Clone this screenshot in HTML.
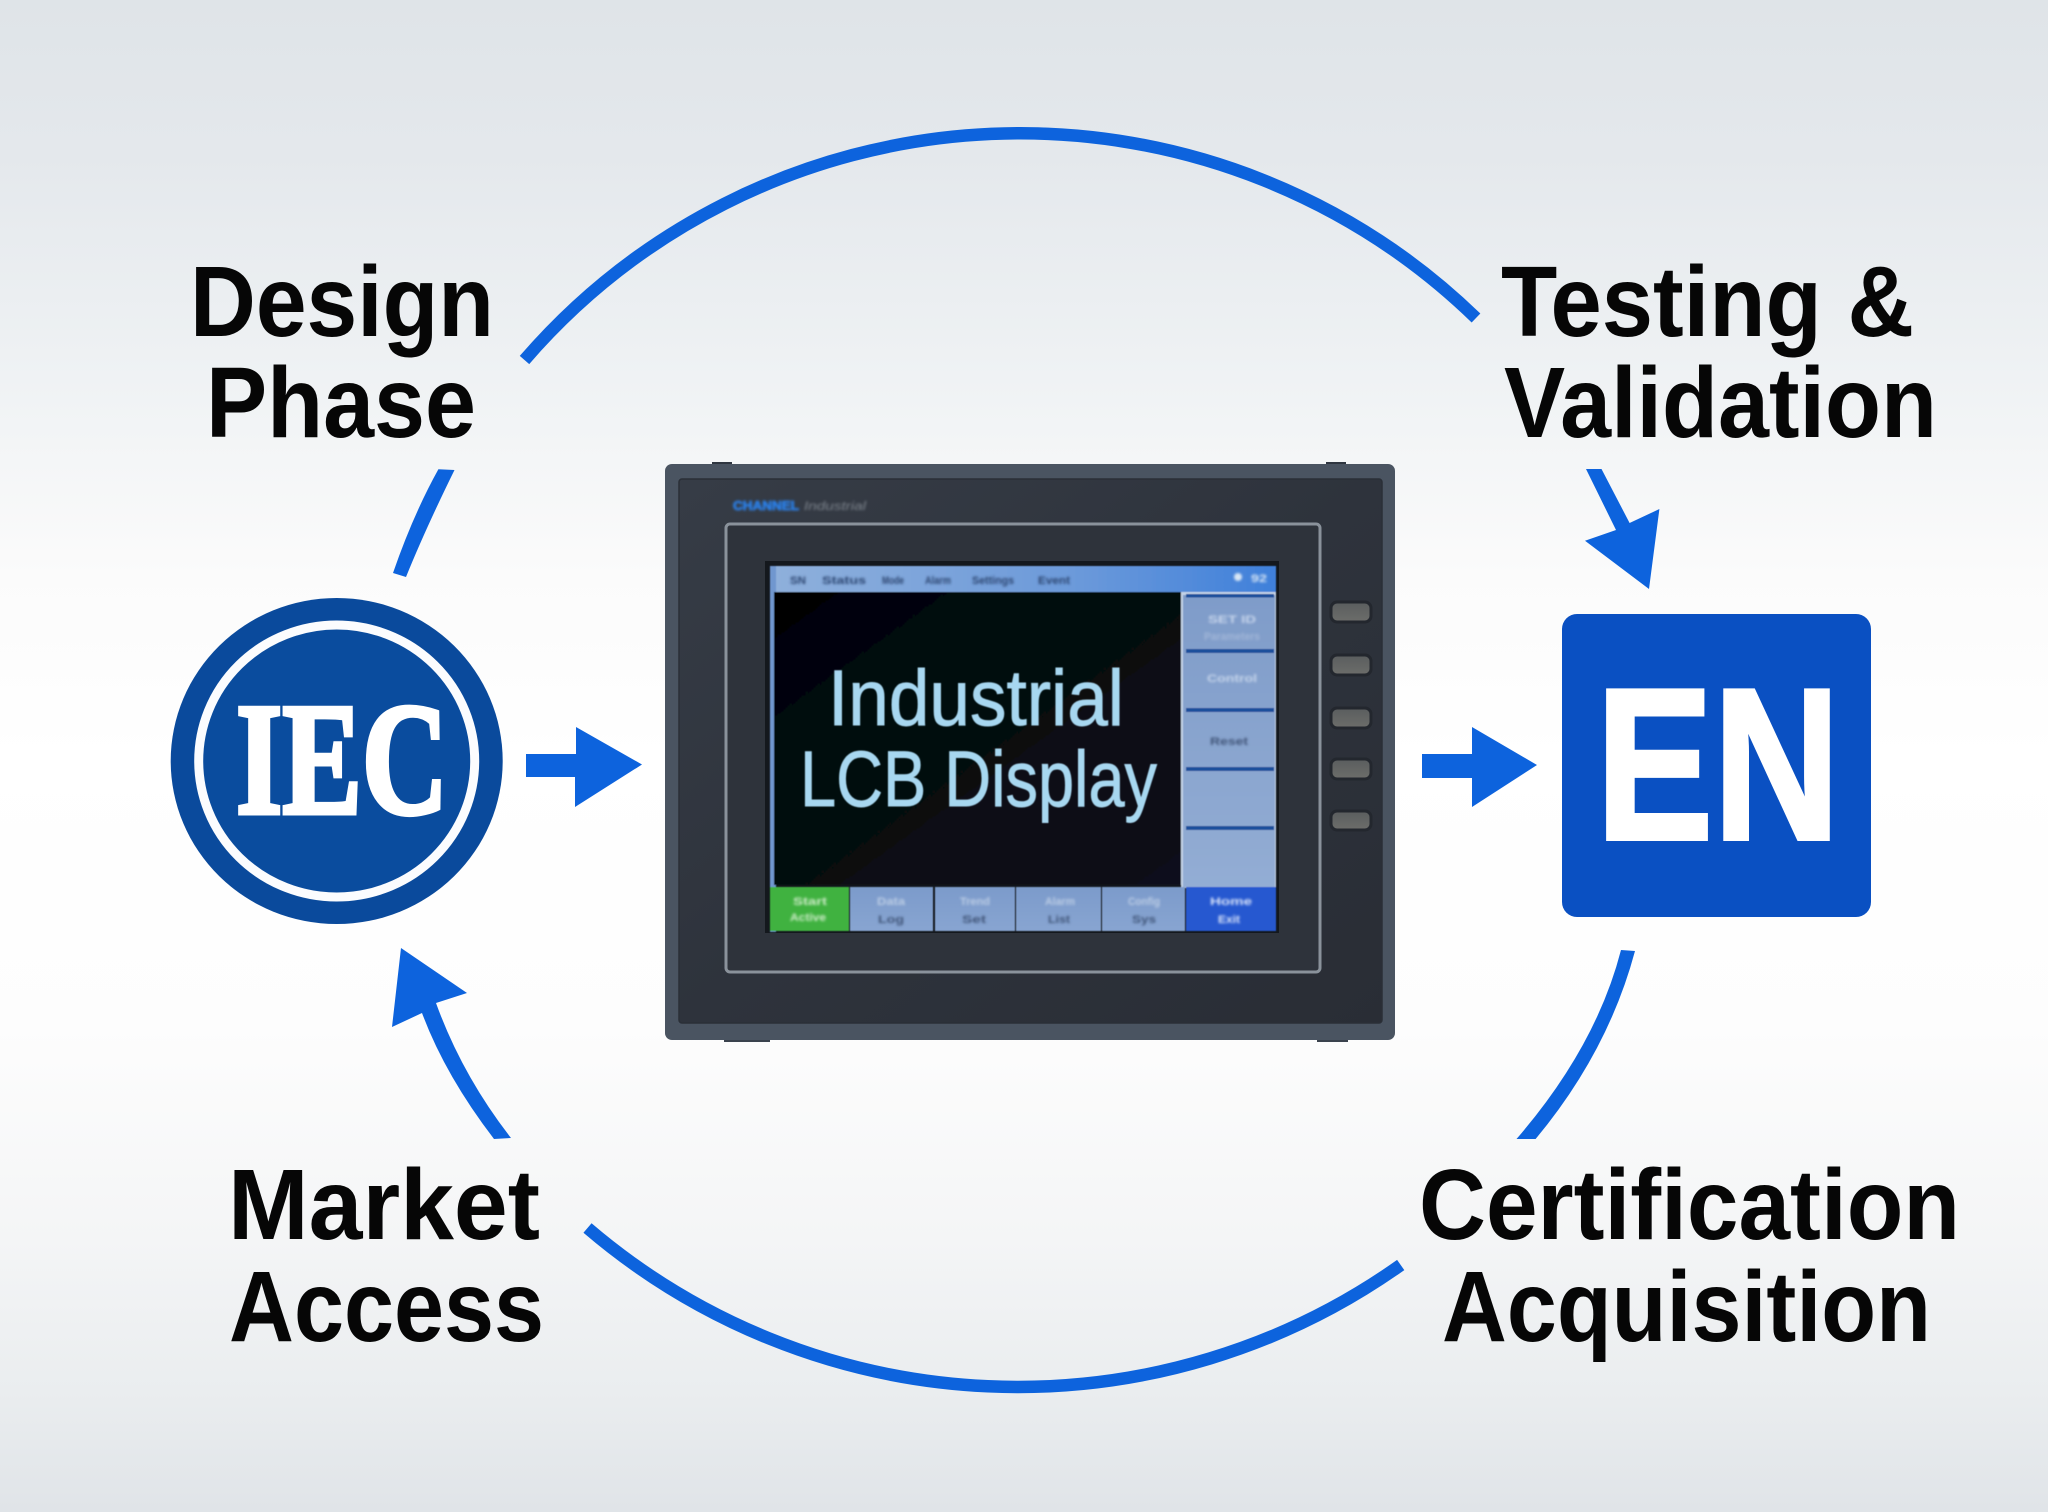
<!DOCTYPE html>
<html lang="en">
<head>
<meta charset="utf-8">
<title>Industrial LCD Display Certification Cycle</title>
<style>
html,body{margin:0;padding:0;width:2048px;height:1512px;overflow:hidden;background:#fff}
svg{display:block}
.lab{font-family:"Liberation Sans",sans-serif;font-weight:700;font-size:100px;fill:#060606}
.tiny{font-family:"Liberation Sans",sans-serif;font-size:11px;font-weight:700}
</style>
</head>
<body>
<svg xmlns="http://www.w3.org/2000/svg" width="2048" height="1512" viewBox="0 0 2048 1512">
<defs>
<linearGradient id="bg" x1="0" y1="0" x2="0" y2="1">
<stop offset="0" stop-color="#dfe4e8"/>
<stop offset=".1" stop-color="#e4e8ec"/>
<stop offset=".25" stop-color="#eff2f4"/>
<stop offset=".38" stop-color="#fbfbfb"/>
<stop offset=".5" stop-color="#ffffff"/>
<stop offset=".68" stop-color="#fdfdfd"/>
<stop offset=".82" stop-color="#f4f5f6"/>
<stop offset=".92" stop-color="#eaedef"/>
<stop offset="1" stop-color="#e0e4e8"/>
</linearGradient>
<linearGradient id="panel" x1="0" y1="0" x2="1" y2="1">
<stop offset="0" stop-color="#363c46"/>
<stop offset=".5" stop-color="#2e333c"/>
<stop offset="1" stop-color="#292d35"/>
</linearGradient>
<linearGradient id="bar" x1="0" y1="0" x2="1" y2="0">
<stop offset="0" stop-color="#8fb0db"/>
<stop offset=".6" stop-color="#6c9ada"/>
<stop offset="1" stop-color="#3f80da"/>
</linearGradient>
<linearGradient id="side" x1="0" y1="0" x2="0" y2="1">
<stop offset="0" stop-color="#7f9cc9"/>
<stop offset="1" stop-color="#93add4"/>
</linearGradient>
<linearGradient id="cell" x1="0" y1="0" x2="0" y2="1">
<stop offset="0" stop-color="#7c9bcb"/>
<stop offset="1" stop-color="#88a5d1"/>
</linearGradient>
<linearGradient id="lcd" x1="0" y1="0" x2="1" y2="1">
<stop offset="0" stop-color="#030405"/>
<stop offset="1" stop-color="#0a111b"/>
</linearGradient>
<linearGradient id="btn" x1="0" y1="0" x2="0" y2="1">
<stop offset="0" stop-color="#5a5d5e"/>
<stop offset="1" stop-color="#6c6d6a"/>
</linearGradient>
<filter id="b1" x="-10%" y="-10%" width="120%" height="120%"><feGaussianBlur stdDeviation="0.6"/></filter>
<filter id="b2" x="-10%" y="-30%" width="120%" height="160%"><feGaussianBlur stdDeviation="1.2"/></filter>
</defs>

<rect width="2048" height="1512" fill="url(#bg)"/>

<!-- loop arcs -->
<g fill="none" stroke="#0d63dd" stroke-width="12.5">
<path d="M524.5,360 A655,655 0 0 1 1476,318"/>
<path d="M587.5,1228 A662,662 0 0 0 1400.7,1265"/>
</g>
<g fill="#0d63dd">
<path d="M438.4,469.3 L454.5,470 Q425,530 406,577 L393,573 Q413,515 438.4,469.3Z"/>
<path d="M1621,950 L1635,951 Q1608,1052 1535.6,1139 L1516.5,1139 Q1596,1047 1621,950Z"/>
<path d="M1586,469 L1601.5,469 L1629.6,523 L1659.4,509 L1649,589 L1585,540.7 L1616,530Z"/>
<path d="M401,948 L467,993 L436,1003 Q462,1075 511,1138 L494,1139 Q445,1075 422,1013 L392,1027Z"/>
<path d="M526,754 H576 V727 L642,764.5 L575,807 V777 H526Z"/>
<path d="M1422,754 H1472 V727 L1537,765 L1472,807 V778 H1422Z"/>
</g>

<!-- labels -->
<text class="lab" x="190" y="336" textLength="304" lengthAdjust="spacingAndGlyphs">Design</text>
<text class="lab" x="206" y="437" textLength="270" lengthAdjust="spacingAndGlyphs">Phase</text>
<text class="lab" x="1501" y="336" textLength="413" lengthAdjust="spacingAndGlyphs">Testing &amp;</text>
<text class="lab" x="1504" y="437" textLength="433" lengthAdjust="spacingAndGlyphs">Validation</text>
<text class="lab" x="228" y="1239" textLength="312" lengthAdjust="spacingAndGlyphs">Market</text>
<text class="lab" x="229" y="1341" textLength="315" lengthAdjust="spacingAndGlyphs">Access</text>
<text class="lab" x="1419" y="1239" textLength="541" lengthAdjust="spacingAndGlyphs">Certification</text>
<text class="lab" x="1442" y="1341" textLength="489" lengthAdjust="spacingAndGlyphs">Acquisition</text>

<!-- IEC badge -->
<ellipse cx="336.7" cy="761" rx="166" ry="163" fill="#0a4a9c"/>
<ellipse cx="336.7" cy="761" rx="138" ry="136" fill="#0a4c9e" stroke="#fbfcfe" stroke-width="9"/>
<text x="236" y="813" font-family="'Liberation Serif',serif" font-weight="700" font-size="160" fill="#fff" stroke="#fff" stroke-width="5" textLength="212" lengthAdjust="spacingAndGlyphs">IEC</text>

<!-- EN badge -->
<rect x="1562" y="614" width="309" height="303" rx="15" fill="#0a50c2"/>
<text x="1596" y="839" font-family="'Liberation Sans',sans-serif" font-weight="700" font-size="216" fill="#fff" stroke="#fff" stroke-width="4" textLength="244" lengthAdjust="spacingAndGlyphs">EN</text>

<!-- device -->
<rect x="712" y="462" width="20" height="6" fill="#2f3640"/>
<rect x="1326" y="462" width="20" height="6" fill="#2f3640"/>
<rect x="724" y="1036" width="46" height="6" fill="#3a424d"/>
<rect x="1317" y="1036" width="31" height="6" fill="#3a424d"/>
<rect x="665" y="464" width="730" height="576" rx="7" fill="#4a5461"/>
<rect x="679" y="479" width="703" height="544" rx="3" fill="url(#panel)" stroke="#2a2f37" stroke-width="1.5"/>
<rect x="726" y="524" width="594" height="448" rx="4" fill="#2e333b" stroke="#8a929b" stroke-width="3"/>
<rect x="765" y="561" width="514" height="372" fill="#14181d"/>

<g filter="url(#b1)">
<rect x="770" y="566" width="506" height="26" fill="url(#bar)"/>
<rect x="770" y="566" width="6" height="366" fill="#6f97cf"/>
<rect x="774" y="592" width="407" height="293" fill="url(#lcd)"/>
<rect x="1181" y="592" width="95" height="296" fill="#c3d2e6"/>
<rect x="1183" y="595" width="92" height="292" fill="url(#side)"/>
<rect x="1186" y="594" width="88" height="3.5" fill="#1d4f9c"/>
<rect x="1186" y="649" width="88" height="4" fill="#1d4f9c"/>
<rect x="1186" y="708" width="88" height="4" fill="#1d4f9c"/>
<rect x="1186" y="767" width="88" height="4" fill="#1d4f9c"/>
<rect x="1186" y="826" width="88" height="4" fill="#1d4f9c"/>
<rect x="770" y="887" width="79" height="44" fill="#3fb23f"/>
<rect x="850" y="887" width="83" height="44" fill="url(#cell)"/>
<rect x="935" y="887" width="80" height="44" fill="url(#cell)"/>
<rect x="1016" y="887" width="85" height="44" fill="url(#cell)"/>
<rect x="1102" y="887" width="83" height="44" fill="url(#cell)"/>
<rect x="1186" y="887" width="90" height="44" fill="#2558d0"/>
</g>

<g filter="url(#b2)">
<text class="tiny" x="790" y="584" fill="#2c4470" textLength="16" lengthAdjust="spacingAndGlyphs">SN</text>
<text class="tiny" x="822" y="584" fill="#2c4470" textLength="44" lengthAdjust="spacingAndGlyphs">Status</text>
<text class="tiny" x="882" y="584" fill="#2c4470" textLength="22" lengthAdjust="spacingAndGlyphs">Mode</text>
<text class="tiny" x="925" y="584" fill="#2c4470" textLength="26" lengthAdjust="spacingAndGlyphs">Alarm</text>
<text class="tiny" x="972" y="584" fill="#2c4470" textLength="42" lengthAdjust="spacingAndGlyphs">Settings</text>
<text class="tiny" x="1038" y="584" fill="#2c4470" textLength="32" lengthAdjust="spacingAndGlyphs">Event</text>
<circle cx="1238" cy="577" r="4" fill="#d8e6f5"/>
<text class="tiny" x="1251" y="582" fill="#d8e6f5" textLength="16" lengthAdjust="spacingAndGlyphs">92</text>
<text class="tiny" x="1208" y="623" fill="#c7d6ec" font-size="14" textLength="48" lengthAdjust="spacingAndGlyphs">SET ID</text>
<text class="tiny" x="1204" y="640" fill="#a0b6d8" textLength="56" lengthAdjust="spacingAndGlyphs">Parameters</text>
<text class="tiny" x="1207" y="682" fill="#c7d6ec" textLength="50" lengthAdjust="spacingAndGlyphs">Control</text>
<text class="tiny" x="1210" y="745" fill="#3f5478" textLength="38" lengthAdjust="spacingAndGlyphs">Reset</text>
<text class="tiny" x="793" y="905" fill="#cfecc9" textLength="34" lengthAdjust="spacingAndGlyphs">Start</text>
<text class="tiny" x="790" y="921" fill="#cfecc9" textLength="36" lengthAdjust="spacingAndGlyphs">Active</text>
<text class="tiny" x="877" y="905" fill="#bccde5" textLength="28" lengthAdjust="spacingAndGlyphs">Data</text>
<text class="tiny" x="878" y="923" fill="#3f5478" textLength="26" lengthAdjust="spacingAndGlyphs">Log</text>
<text class="tiny" x="960" y="905" fill="#bccde5" textLength="30" lengthAdjust="spacingAndGlyphs">Trend</text>
<text class="tiny" x="962" y="923" fill="#3f5478" textLength="24" lengthAdjust="spacingAndGlyphs">Set</text>
<text class="tiny" x="1045" y="905" fill="#bccde5" textLength="30" lengthAdjust="spacingAndGlyphs">Alarm</text>
<text class="tiny" x="1048" y="923" fill="#3f5478" textLength="22" lengthAdjust="spacingAndGlyphs">List</text>
<text class="tiny" x="1128" y="905" fill="#bccde5" textLength="32" lengthAdjust="spacingAndGlyphs">Config</text>
<text class="tiny" x="1132" y="923" fill="#3f5478" textLength="24" lengthAdjust="spacingAndGlyphs">Sys</text>
<text class="tiny" x="1210" y="905" fill="#dbe5fa" textLength="42" lengthAdjust="spacingAndGlyphs">Home</text>
<text class="tiny" x="1218" y="923" fill="#dbe5fa" textLength="22" lengthAdjust="spacingAndGlyphs">Exit</text>
</g>

<g filter="url(#b2)">
<text x="733" y="510" font-family="'Liberation Sans',sans-serif" font-weight="700" font-size="13" fill="#2b7fe6" stroke="#2b7fe6" stroke-width=".8" textLength="66" lengthAdjust="spacingAndGlyphs">CHANNEL</text>
<text x="804" y="510" font-family="'Liberation Sans',sans-serif" font-style="italic" font-size="12" fill="#7d848d" textLength="62" lengthAdjust="spacingAndGlyphs">Industrial</text>
</g>

<g font-family="'Liberation Sans',sans-serif" fill="#a7d7f0" stroke="#a7d7f0" stroke-width=".9" filter="url(#b1)">
<text x="828" y="725" font-size="79" textLength="296" lengthAdjust="spacingAndGlyphs">Industrial</text>
<text x="800" y="806" font-size="79" textLength="357" lengthAdjust="spacingAndGlyphs">LCB Display</text>
</g>

<g fill="url(#btn)" stroke="#23272e" stroke-width="3">
<rect x="1331" y="602" width="40" height="20" rx="6"/>
<rect x="1331" y="655" width="40" height="20" rx="6"/>
<rect x="1331" y="708" width="40" height="20" rx="6"/>
<rect x="1331" y="759" width="40" height="20" rx="6"/>
<rect x="1331" y="811" width="40" height="19" rx="6"/>
</g>
</svg>
</body>
</html>
